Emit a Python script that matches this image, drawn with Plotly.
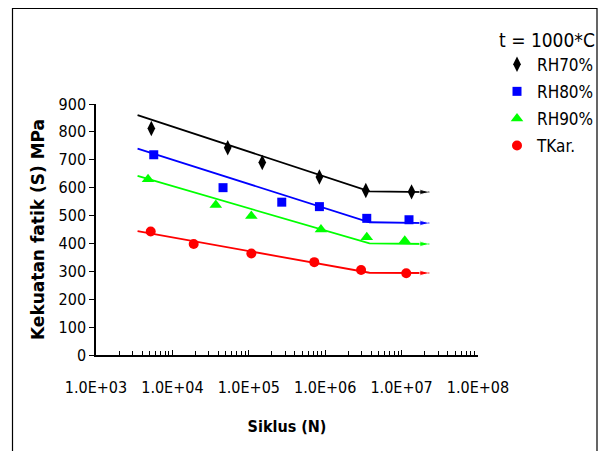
import plotly.graph_objects as go

# ---- data ----
rh70_n = [5.3e3, 5.3e4, 1.5e5, 8.4e5, 3.4e6, 1.35e7]
rh70_s = [812, 743, 690, 638, 590, 585]
rh80_n = [5.7e3, 4.6e4, 2.7e5, 8.4e5, 3.5e6, 1.25e7]
rh80_s = [718, 600, 548, 532, 490, 485]
rh90_n = [4.8e3, 3.7e4, 1.08e5, 8.8e5, 3.5e6, 1.1e7]
rh90_s = [630, 538, 498, 450, 422, 410]
tkar_n = [5.2e3, 1.9e4, 1.08e5, 7.2e5, 2.95e6, 1.15e7]
tkar_s = [443, 398, 364, 333, 305, 293]

fit_n = [3.5e3, 3.8e6, 2.3e7]
rh70_fit = [860, 587, 584]
rh80_fit = [740, 476, 473]
rh90_fit = [642, 400, 398]
tkar_fit = [444, 295, 294]

series_names = ["RH70%", "RH80%", "RH90%", "TKar."]
x_tickvals = [1e3, 1e4, 1e5, 1e6, 1e7, 1e8]
x_ticktext = ["1.0E+03", "1.0E+04", "1.0E+05", "1.0E+06", "1.0E+07", "1.0E+08"]
y_tickvals = [0, 100, 200, 300, 400, 500, 600, 700, 800, 900]

NARROW = "Liberation Sans Narrow, Arial Narrow, DejaVu Sans Condensed, sans-serif"

colors = ["#000000", "#0000FF", "#00FF00", "#FF0000"]
symbols = ["diamond-tall", "square", "triangle-up", "circle"]
sizes = [11, 9, 11, 10]
pts = [(rh70_n, rh70_s), (rh80_n, rh80_s), (rh90_n, rh90_s), (tkar_n, tkar_s)]
fits = [rh70_fit, rh80_fit, rh90_fit, tkar_fit]

fig = go.Figure()
for name, c, (xs, ys), fy in zip(series_names, colors, pts, fits):
    fig.add_trace(go.Scatter(
        x=fit_n, y=fy, mode="lines+markers", showlegend=False,
        line=dict(color=c, width=1.8),
        marker=dict(symbol=["circle", "circle", "arrow"], size=[0, 0, 10],
                    angleref="previous", color=c),
        hoverinfo="skip"))
for name, c, sym, sz, (xs, ys) in zip(series_names, colors, symbols, sizes, pts):
    fig.add_trace(go.Scatter(
        x=xs, y=ys, mode="markers", name=name, legendgroup=name,
        marker=dict(symbol=sym, size=sz, color=c, line=dict(width=0))))

# page has an 8px body margin: figure coordinates = page coordinates - 8
OFF = 8
W, H = 590, 443
L, T = 88, 96
R = W - 470
B = H - 347
pw, ph = W - L - R, H - T - B


def px2paper_x(page_px):
    return (page_px - OFF - L) / pw


def px2paper_y(page_py):
    return (H - B - (page_py - OFF)) / ph


fig.add_shape(type="rect", xref="paper", yref="paper",
              x0=px2paper_x(12.5), x1=px2paper_x(597),
              y0=px2paper_y(480), y1=px2paper_y(8.5),
              line=dict(color="black", width=1.2), fillcolor="rgba(0,0,0,0)",
              layer="below")

fig.update_layout(
    width=W, height=H,
    margin=dict(l=L, r=R, t=T, b=B, autoexpand=False),
    plot_bgcolor="white", paper_bgcolor="white",
    font=dict(family=NARROW, color="black", size=16),
    showlegend=True,
    legend=dict(
        x=px2paper_x(497), y=px2paper_y(22), xanchor="left", yanchor="top",
        bgcolor="rgba(0,0,0,0)", borderwidth=0,
        font=dict(family=NARROW, size=17, color="black"),
        title=dict(text="t = 1000*C", font=dict(family=NARROW, size=19)),
        itemwidth=30, tracegroupgap=2,
    ),
    xaxis=dict(
        type="log", range=[3, 8],
        tickvals=x_tickvals, ticktext=x_ticktext,
        ticks="inside", ticklen=5, tickwidth=1, tickcolor="black",
        minor=dict(ticks="inside", ticklen=4, tickwidth=1, tickcolor="black",
                   dtick="D1"),
        showline=True, linecolor="black", linewidth=1.5,
        showgrid=False, zeroline=False,
        ticklabelstandoff=17,
        tickfont=dict(family=NARROW, size=16),
        title=dict(text="<b>Siklus (N)</b>", standoff=25,
                   font=dict(family=NARROW, size=16)),
    ),
    yaxis=dict(
        range=[0, 900], tickvals=y_tickvals,
        ticks="outside", ticklen=5, tickwidth=1, tickcolor="black",
        showline=True, linecolor="black", linewidth=1.5,
        showgrid=False, zeroline=False,
        tickfont=dict(family=NARROW, size=16),
        title=dict(text="<b>Kekuatan fatik (S) MPa</b>", standoff=10,
                   font=dict(family="DejaVu Sans", size=17)),
    ),
)

fig.write_html("out.html")
